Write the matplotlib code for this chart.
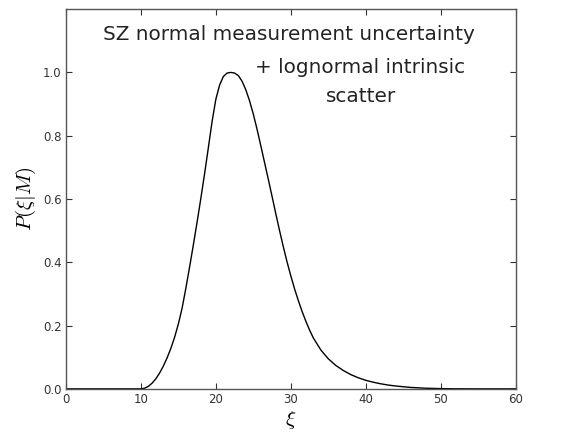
import matplotlib
matplotlib.use("Agg")
import matplotlib.pyplot as plt

plt.rcParams['mathtext.fontset'] = 'cm'

# curve
xi = [0, 4, 8, 10, 10.5, 11, 11.5, 12, 12.5, 13, 13.5, 14, 14.5, 15, 15.5, 16,
      16.5, 17, 17.5, 18, 18.5, 19, 19.5, 20, 20.5, 21, 21.5, 22, 22.5, 23,
      23.5, 24, 24.5, 25, 25.5, 26, 26.5, 27, 27.5, 28, 28.5, 29, 29.5, 30,
      30.5, 31, 31.5, 32, 32.5, 33, 34, 35, 36, 37, 38, 39, 40, 41, 42, 43,
      44, 46, 48, 50, 52, 55, 60]
prob = [0, 0, 0, 0, 0.002, 0.008, 0.018, 0.032, 0.050, 0.072, 0.098, 0.128,
        0.163, 0.205, 0.255, 0.318, 0.385, 0.455, 0.527, 0.602, 0.680, 0.762,
        0.845, 0.915, 0.960, 0.987, 0.998, 1.0, 0.998, 0.990, 0.972, 0.945,
        0.910, 0.868, 0.820, 0.768, 0.715, 0.662, 0.608, 0.553, 0.500, 0.449,
        0.401, 0.357, 0.316, 0.279, 0.245, 0.214, 0.186, 0.161, 0.123, 0.095,
        0.074, 0.058, 0.045, 0.035, 0.027, 0.021, 0.016, 0.012, 0.009,
        0.0045, 0.002, 0.0008, 0.0002, 0, 0]

xticks = [0, 10, 20, 30, 40, 50, 60]
yticks = [0.0, 0.2, 0.4, 0.6, 0.8, 1.0]

fig = plt.figure(figsize=(5.68, 4.34), dpi=100)
ax = fig.add_axes([0.116, 0.104, 0.792, 0.875])

ax.plot(xi, prob, color='black', lw=1.0)

ax.set_xlim(0, 60)
ax.set_ylim(0, 1.2)
ax.set_xticks(xticks)
ax.set_yticks(yticks)
ax.set_xticklabels([str(t) for t in xticks])
ax.set_yticklabels(['%.1f' % t for t in yticks])
ax.tick_params(direction='in', top=True, right=True, length=4, width=0.8,
               labelsize=8.5, colors='#333333', pad=3)
for s in ax.spines.values():
    s.set_color('#555555')
    s.set_linewidth(1.0)

ax.set_xlabel(r'$\xi$', fontsize=15, labelpad=2)
ax.set_ylabel(r'$P(\xi|M)$', fontsize=15, labelpad=4)

ax.text(29.8, 1.101, 'SZ normal measurement uncertainty', ha='center',
        va='baseline', fontsize=14.4, color='#222222')
ax.text(39.3, 0.997, '+ lognormal intrinsic', ha='center', va='baseline',
        fontsize=14.4, color='#222222')
ax.text(39.4, 0.906, 'scatter', ha='center', va='baseline', fontsize=14.4,
        color='#222222')

fig.savefig('out.png', dpi=100, facecolor='white')
